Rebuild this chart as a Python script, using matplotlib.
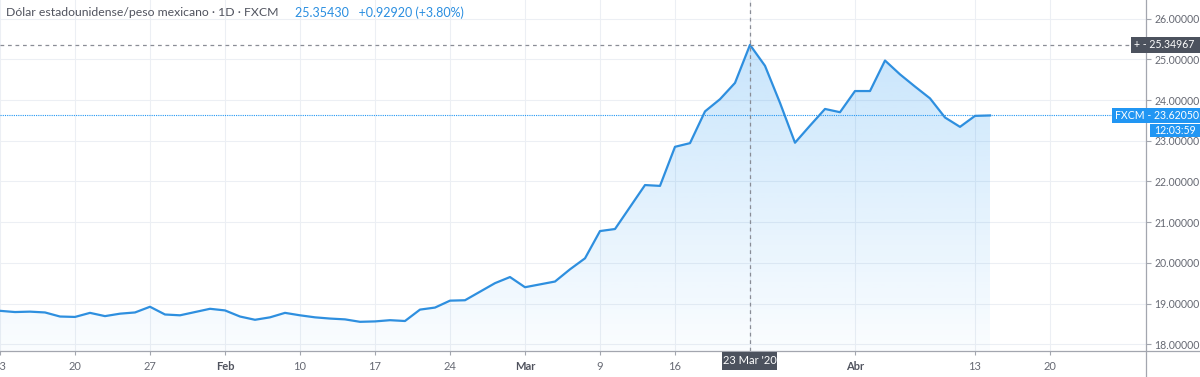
import numpy as np
import matplotlib
matplotlib.use('Agg')
import matplotlib.pyplot as plt
from matplotlib.patches import Rectangle
from matplotlib.lines import Line2D

# ---------------- data ----------------
start_date = '2020-01-13'
closes = [18.82, 18.79, 18.80, 18.78, 18.68, 18.67, 18.77, 18.69, 18.75, 18.78,
          18.92, 18.73, 18.71, 18.79, 18.87, 18.83, 18.68, 18.60, 18.66, 18.77,
          18.71, 18.66, 18.63, 18.61, 18.55, 18.56, 18.59, 18.57, 18.85, 18.90,
          19.07, 19.08, 19.29, 19.50, 19.65, 19.40, 19.47, 19.54, 19.84, 20.11,
          20.78, 20.83, 21.37, 21.91, 21.89, 22.85, 22.94, 23.72, 24.02, 24.42,
          25.3543, 24.84, 23.93, 22.95, 23.37, 23.78, 23.70, 24.22, 24.22, 24.97,
          24.63, 24.33, 24.04, 23.57, 23.34, 23.61, 23.6205]
x_tick_dates = ['2020-01-13', '2020-01-20', '2020-01-27', '2020-02-03', '2020-02-10',
                '2020-02-17', '2020-02-24', '2020-03-02', '2020-03-09', '2020-03-16',
                '2020-03-23', '2020-04-01', '2020-04-13', '2020-04-20']
x_tick_labels = ['13', '20', '27', 'Feb', '10', '17', '24', 'Mar', '9', '16',
                 '', 'Abr', '13', '20']
month_labels = ['Feb', 'Mar', 'Abr']
y_ticks = [18, 19, 20, 21, 22, 23, 24, 25, 26]
crosshair_date = '2020-03-23'
crosshair_price = 25.34967
last_price = 23.62050
title = 'Dólar estadounidense/peso mexicano · 1D · FXCM'
quote = '25.35430   +0.92920 (+3.80%)'

FONT = ['Lato', 'DejaVu Sans']

# ---------------- figure ----------------
W, H = 1200, 377
fig = plt.figure(figsize=(W / 100, H / 100), dpi=100)
fig.patch.set_facecolor('white')

def fx(px):
    return px / W

def fy(py):
    return 1 - py / H

AX_RIGHT = 1146
AX_BOTTOM = 351
ax = fig.add_axes([0, fy(AX_BOTTOM), fx(AX_RIGHT), AX_BOTTOM / H])
ax.set_facecolor('white')

x = np.arange(len(closes))
tick_pos = [int(np.busday_count(start_date, d)) for d in x_tick_dates]
cross_x = int(np.busday_count(start_date, crosshair_date))

XLIM = (0, AX_RIGHT / 15.0)
YLIM = (17.833, 26.457)
ax.set_xlim(*XLIM)
ax.set_ylim(*YLIM)

grid_c = '#eceff4'
for yv in y_ticks:
    ax.axhline(yv, color=grid_c, lw=0.75, zorder=0)
for p in tick_pos:
    ax.axvline(p, color=grid_c, lw=0.75, zorder=0)

line_c = '#2e8fdf'
# gradient fill
poly = ax.fill_between(x, closes, 17.0, color='none', lw=0)
grad = np.linspace(0, 1, 256).reshape(-1, 1)
rgba = np.zeros((256, 1, 4))
rgba[..., 0] = 33 / 255
rgba[..., 1] = 150 / 255
rgba[..., 2] = 243 / 255
rgba[..., 3] = 0.02 + 0.26 * grad
im = ax.imshow(rgba, extent=[0, len(closes) - 1, YLIM[0], YLIM[1]], origin='lower',
               aspect='auto', zorder=1, interpolation='bilinear')
path = poly.get_paths()[0]
im.set_clip_path(path, transform=ax.transData)
ax.set_xlim(*XLIM)
ax.set_ylim(*YLIM)

ax.plot(x, closes, color=line_c, lw=1.6, zorder=3, solid_joinstyle='round')

# price line (dotted)
ax.axhline(last_price, color='#2196f3', lw=0.8, ls=(0, (1, 1)), zorder=2)
# crosshair
ax.axhline(crosshair_price, color='#8a8d96', lw=0.9, ls=(0, (3, 3)), zorder=4)
ax.axvline(cross_x, color='#8a8d96', lw=0.9, ls=(0, (3, 3)), zorder=4)

# axes styling
for s in ['left', 'top', 'right', 'bottom']:
    ax.spines[s].set_visible(False)

ax.yaxis.tick_right()
ax.set_yticks(y_ticks)
ax.set_yticklabels(['%.5f' % v for v in y_ticks])
ax.tick_params(axis='y', length=3.5, width=0.8, color='#a3a6af', pad=2.5,
               labelsize=7.6, labelcolor='#666973')
ax.set_xticks(tick_pos)
ax.set_xticklabels(x_tick_labels)
ax.tick_params(axis='x', length=3, width=0.8, color='#a3a6af', pad=4,
               labelsize=8, labelcolor='#666973')
for lab in ax.get_xticklabels():
    if lab.get_text() in month_labels:
        lab.set_fontweight('bold')
        lab.set_color('#50535e')
for lab in ax.get_yticklabels() + ax.get_xticklabels():
    lab.set_family(FONT)

# axis lines (extend into corner)
axis_c = '#a3a6af'
fig.add_artist(Line2D([fx(AX_RIGHT), fx(AX_RIGHT)], [0, 1], color=axis_c, lw=0.9,
                      transform=fig.transFigure))
fig.add_artist(Line2D([0, 1], [fy(AX_BOTTOM), fy(AX_BOTTOM)], color=axis_c, lw=0.9,
                      transform=fig.transFigure))

def box(x0, y0, x1, y1, color, text, tx, tcolor='white', size=8, ha='left', weight='normal'):
    fig.add_artist(Rectangle((fx(x0), fy(y1)), fx(x1 - x0), (y1 - y0) / H,
                             transform=fig.transFigure, facecolor=color,
                             edgecolor='none', zorder=10))
    fig.text(fx(tx), fy((y0 + y1) / 2), text, color=tcolor, fontsize=size,
             ha=ha, va='center', zorder=11, family=FONT, fontweight=weight)

# crosshair price label
box(1131, 37, 1200, 53, '#4c525e', '+ - %.5f' % crosshair_price, 1134, size=7.6)
# last price labels
box(1112, 108, 1200, 123, '#2196f3', 'FXCM - %.5f' % last_price, 1115, size=7.6)
box(1150, 124, 1200, 137, '#2196f3', '12:03:59', 1154, size=7.6)
# crosshair date label
box(722, 352, 777, 370, '#4c525e', "23 Mar '20", 749.5, size=8, ha='center')

# title
fig.text(fx(6), fy(13), title, color='#50535e', fontsize=8.8,
         ha='left', va='center', family=FONT)
fig.text(fx(295), fy(13), quote, color='#2a8ee0', fontsize=9,
         ha='left', va='center', family=FONT)

fig.savefig('out.png', dpi=100, facecolor='white')
